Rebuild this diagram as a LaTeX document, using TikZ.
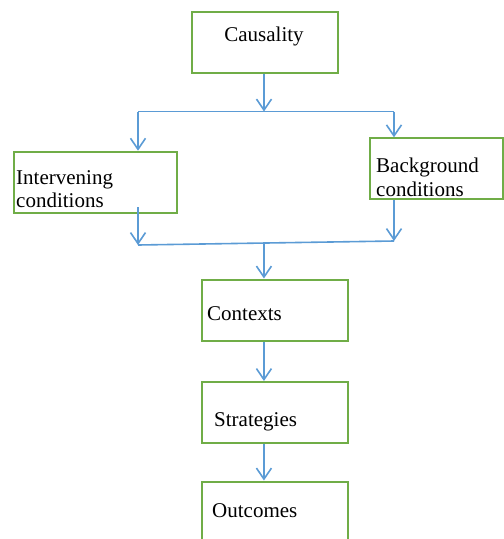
\documentclass[tikz,border=0pt]{standalone}
\usepackage{fontspec}
\setmainfont{Liberation Serif}
\usepackage{tikz}
\usetikzlibrary{arrows.meta,calc}
\usepackage{xcolor}
\definecolor{boxgreen}{RGB}{112,173,71}
\definecolor{linkblue}{RGB}{91,155,213}
\tikzset{
  box/.style={draw=boxgreen, line width=2pt, minimum height=61pt, inner sep=0pt},
  lbl/.style={inner sep=0pt, font=\fontsize{21}{23.5}\selectfont, align=left},
  link/.style={draw=linkblue, line width=1.6pt},
  flow/.style={link, -{Straight Barb[length=11pt,width=15pt]}},
}

\begin{document}
\begin{tikzpicture}[x=1pt,y=-1pt]
  \useasboundingbox (0,0) rectangle (504,539);
  \clip (0,0) rectangle (504,539);

  % boxes
  \node[box, minimum width=146pt] (causality) at (264.5,42.4) {};
  \node[box, minimum width=162.7pt] (interv) at (95.3,182.2) {};
  \node[box, minimum width=133pt] (backg) at (436.5,168.8) {};
  \node[box, minimum width=145.4pt] (contexts) at (275,310) {};
  \node[box, minimum width=146.6pt] (strategies) at (275,412.5) {};
  \node[box, minimum width=146pt] (outcomes) at (275,512) {};

  % texts (base = last line)
  \node[lbl, anchor=base] (causality-t) at (264,41) {Causality};
  \node[lbl, anchor=base west] (interv-t) at (16,207.5) {Intervening\\conditions};
  \node[lbl, anchor=base west] (backg-t) at (376,196) {Background\\conditions};
  \node[lbl, anchor=base west] (contexts-t) at (207,320) {Contexts};
  \node[lbl, anchor=base west] (strategies-t) at (214,426) {Strategies};
  \node[lbl, anchor=base west] (outcomes-t) at (212,517) {Outcomes};

  % split
  \coordinate (split) at (264,111.5);
  \coordinate (sl) at (138,111.5);
  \coordinate (sr) at (394,111.5);
  \draw[flow] (causality.south -| split) -- (split);
  \draw[link] (sl) -- (sr);
  \draw[flow] (sl) -- (interv.north -| sl);
  \draw[flow] (sr) -- (backg.north -| sr);

  % join
  \coordinate (ltop) at (138,207);
  \coordinate (jl) at (138,245);
  \coordinate (jr) at (394,241);
  \coordinate (jm) at ($(jl)!0.492!(jr)$);
  \draw[flow] (ltop) -- (jl);
  \draw[flow] (backg.south -| jr) -- (jr);
  \draw[link] (jl) -- (jr);

  % chain
  \draw[flow] (jm) -- (contexts.north -| jm);
  \draw[flow] (contexts.south -| jm) -- (strategies.north -| jm);
  \draw[flow] (strategies.south -| jm) -- (outcomes.north -| jm);
\end{tikzpicture}
\end{document}
